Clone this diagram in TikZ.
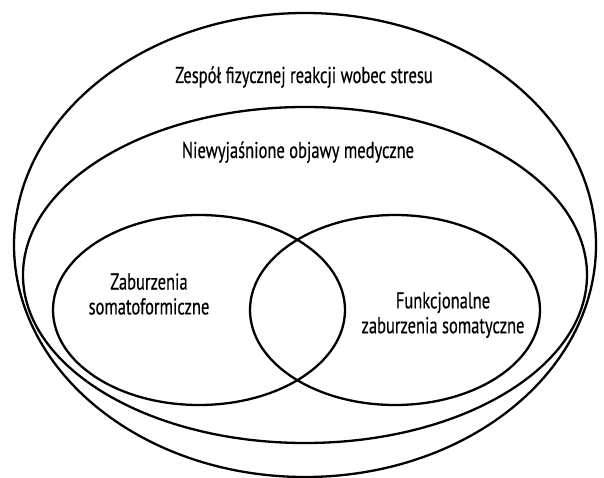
\documentclass[tikz,border=0pt]{standalone}
\usepackage{fontspec}
\setmainfont{PT Sans}[FakeStretch=0.72,FakeBold=0.4]
\usepackage{tikz}

\begin{document}
\begin{tikzpicture}[
  x=1bp,y=-1bp,
  font=\fontsize{23}{25}\selectfont,
  set/.style={draw,line width=2.3bp},
  lbl/.style={align=center,inner sep=0pt}
]
\useasboundingbox (0,0) rectangle (604,478);
% ---- nested sets (outer) ----
\draw[set] (305,245) ellipse [x radius=291,y radius=232];
\draw[set] (305,275) ellipse [x radius=282,y radius=168];
\node[lbl,anchor=base] (stress) at (304,83) {Zespół fizycznej reakcji wobec stresu};
\node[lbl,anchor=base] (mus) at (298,158) {Niewyjaśnione objawy medyczne};

% ---- overlapping sets ----
\draw[set] (199,310) ellipse [x radius=146,y radius=95];
\draw[set] (395,310) ellipse [x radius=145,y radius=95];
\node[lbl] (sfd) at (149,294) {Zaburzenia\\somatoformiczne};
\node[lbl] (fsd) at (443,315) {Funkcjonalne\\zaburzenia somatyczne};
\end{tikzpicture}
\end{document}
